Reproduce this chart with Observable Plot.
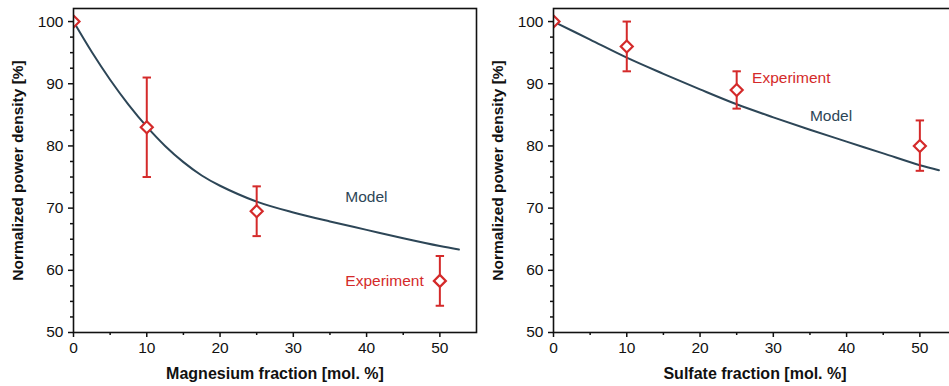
<!DOCTYPE html>
<html><head><meta charset="utf-8">
<script src="https://cdn.jsdelivr.net/npm/d3@7"></script>
<script src="https://cdn.jsdelivr.net/npm/@observablehq/plot@0.6"></script>
<style>
html,body{margin:0;padding:0;background:#fff;overflow:hidden;}
#wrap{display:flex;width:961px;}
</style></head><body><div id="wrap"></div>
<script>
// ---- data ----
const mgModelX = [0, 2.5, 5, 7.5, 10, 12.5, 15, 17.5, 20, 25, 30, 35, 40, 45, 50, 52.6];
const mgModelY = [100, 95.1, 90.65, 86.65, 83.1, 80.0, 77.4, 75.25, 73.6, 71.05, 69.3, 67.85, 66.5, 65.15, 63.9, 63.35];
const mgExpX = [0, 10, 25, 50];
const mgExpY = [100, 83.0, 69.5, 58.3];
const mgExpLo = [100, 75.0, 65.5, 54.3];
const mgExpHi = [100, 91.0, 73.5, 62.3];

const soModelX = [0, 5, 10, 15, 20, 25, 30, 35, 40, 45, 50, 52.6];
const soModelY = [100, 97.1, 94.2, 91.6, 89.1, 86.7, 84.6, 82.6, 80.7, 78.8, 76.9, 76.1];
const soExpX = [0, 10, 25, 50];
const soExpY = [100, 96.0, 89.0, 80.0];
const soExpLo = [100, 92.0, 86.0, 76.0];
const soExpHi = [100, 100.0, 92.0, 84.1];

const xMajor = [0, 10, 20, 30, 40, 50];
const xMinor = [5, 15, 25, 35, 45];
const yMajor = [50, 60, 70, 80, 90, 100];
const yMinor = [52.5, 55, 57.5, 62.5, 65, 67.5, 72.5, 75, 77.5, 82.5, 85, 87.5, 92.5, 95, 97.5];

const panels = [
  {xLabel: "Magnesium fraction [mol. %]", mX: mgModelX, mY: mgModelY, eX: mgExpX, eY: mgExpY, eLo: mgExpLo, eHi: mgExpHi,
   labels: [{t: "Model", x: 37.1, y: 71.8, c: "model"}, {t: "Experiment", x: 37.1, y: 58.3, c: "exp"}]},
  {xLabel: "Sulfate fraction [mol. %]", mX: soModelX, mY: soModelY, eX: soExpX, eY: soExpY, eLo: soExpLo, eHi: soExpHi,
   labels: [{t: "Experiment", x: 27.1, y: 90.9, c: "exp"}, {t: "Model", x: 35.0, y: 84.8, c: "model"}]}
];

const RED = "#d42a2a";
const MODEL = "#2d4657";
const FONT = "'Liberation Sans', Arial, Helvetica, sans-serif";
const cap = {draw(ctx, size) { const w = 4.2; ctx.moveTo(-w, 0); ctx.lineTo(w, 0); }};

for (const p of panels) {
  const model = p.mX.map((x, i) => ({x, y: p.mY[i]}));
  const exp = p.eX.map((x, i) => ({x, y: p.eY[i], lo: p.eLo[i], hi: p.eHi[i]}));
  const errs = exp.filter(d => d.hi > d.lo);
  const chart = Plot.plot({
    width: 480, height: 386,
    marginLeft: 73, marginRight: 4, marginTop: 8, marginBottom: 54,
    style: {fontFamily: FONT, background: "white", color: "#111"},
    x: {domain: [0, 55]},
    y: {domain: [50, 102.1]},
    marks: [
      Plot.line(model, {x: "x", y: "y", stroke: MODEL, strokeWidth: 2, curve: "catmull-rom"}),
      Plot.ruleX(errs, {x: "x", y1: "lo", y2: "hi", stroke: RED, strokeWidth: 2}),
      Plot.dot(errs, {x: "x", y: "hi", symbol: cap, stroke: RED, strokeWidth: 2}),
      Plot.dot(errs, {x: "x", y: "lo", symbol: cap, stroke: RED, strokeWidth: 2}),
      Plot.dot(exp, {x: "x", y: "y", symbol: "diamond2", r: 5.4, fill: "white", stroke: RED, strokeWidth: 2.2, clip: true}),
      Plot.text(p.labels, {x: "x", y: "y", text: "t", textAnchor: "start", fontSize: 15.5,
        fill: d => d.c === "exp" ? RED : MODEL}),
      Plot.frame({stroke: "#111", strokeWidth: 1.6}),
      Plot.axisX({ticks: xMajor, tickSize: 5, tickPadding: 4, fontSize: 15.5, strokeWidth: 1.5, label: null}),
      Plot.axisX({ticks: xMinor, tickSize: 3, tickFormat: () => "", strokeWidth: 1.5, label: null}),
      Plot.axisY({ticks: yMajor, tickSize: 5, tickPadding: 5, fontSize: 15.5, strokeWidth: 1.5, label: null}),
      Plot.axisY({ticks: yMinor, tickSize: 3, tickFormat: () => "", strokeWidth: 1.5, label: null}),
      Plot.text([p.xLabel], {frameAnchor: "bottom", dy: 46, fontSize: 16, fontWeight: "bold", fill: "#111"}),
      Plot.text(["Normalized power density [%]"], {frameAnchor: "left", textAnchor: "middle", dx: -55, rotate: -90, fontSize: 15.5, fontWeight: "bold", fill: "#111"})
    ]
  });
  document.getElementById("wrap").appendChild(chart);
}
</script></body></html>
